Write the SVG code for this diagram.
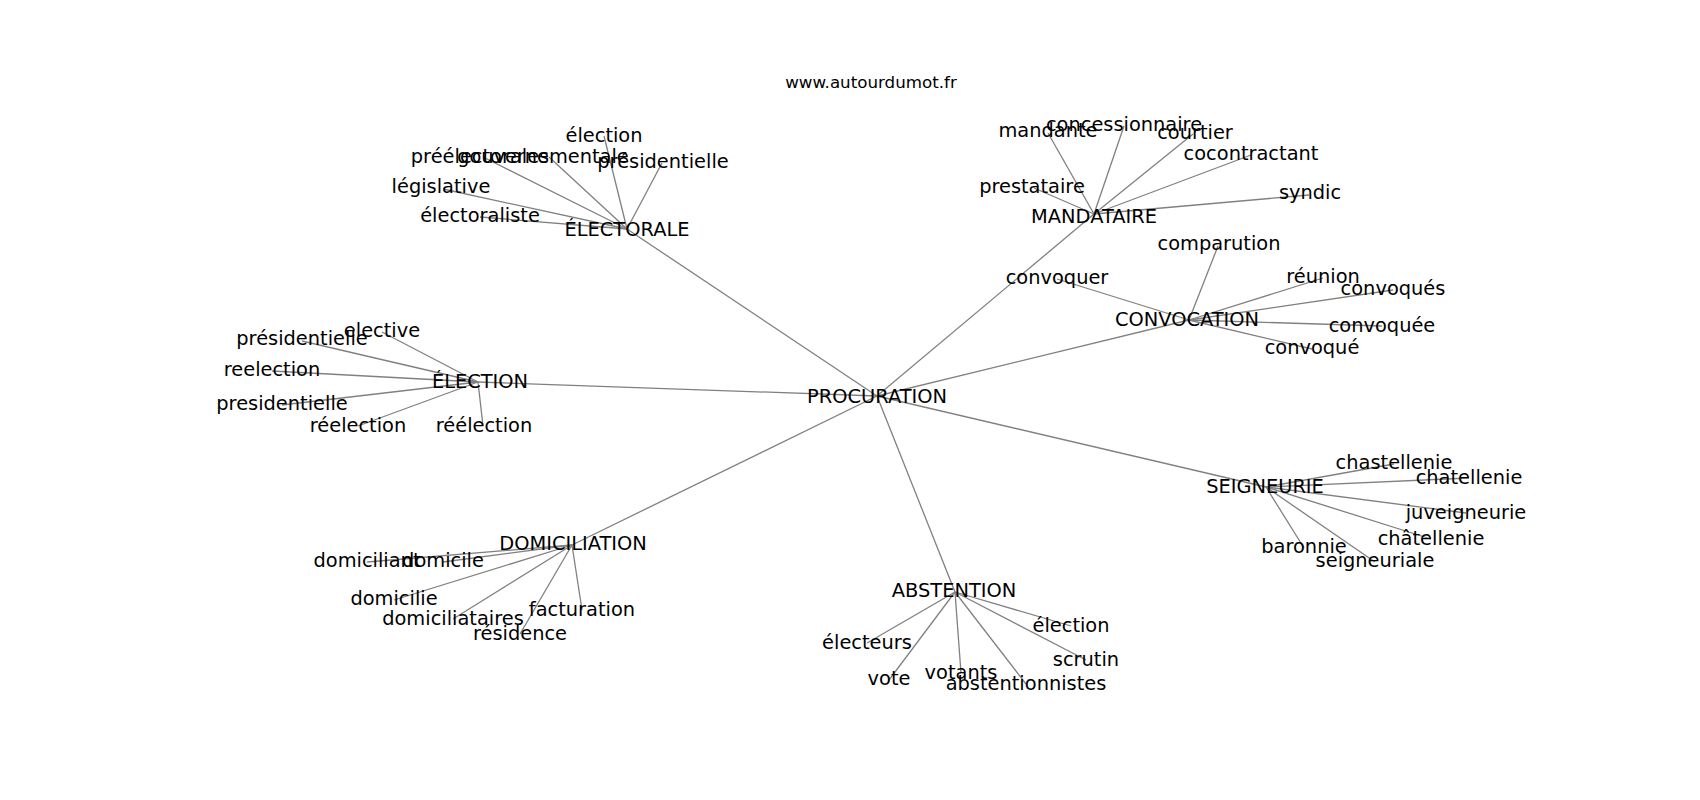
<svg xmlns="http://www.w3.org/2000/svg" width="1700" height="800" viewBox="0 0 1700 800">
<style>
  .e { stroke: #808080; stroke-width: 1.3; fill: none; }
  text { font-family: "DejaVu Sans", "Liberation Sans", sans-serif; fill: #000; }
  .n text { font-size: 19.4px; text-anchor: middle; }
  .t { font-size: 16.7px; text-anchor: middle; }
</style>
<rect width="1700" height="800" fill="#fff"/>
<text class="t" x="871" y="88">www.autourdumot.fr</text>
<g id="edges">
  <line class="e" x1="877" y1="396" x2="627" y2="229"/>
  <line class="e" x1="877" y1="396" x2="1094" y2="214"/>
  <line class="e" x1="877" y1="396" x2="1189" y2="320"/>
  <line class="e" x1="877" y1="396" x2="478" y2="382"/>
  <line class="e" x1="877" y1="396" x2="572" y2="545"/>
  <line class="e" x1="877" y1="396" x2="955" y2="592"/>
  <line class="e" x1="877" y1="396" x2="1266" y2="487"/>
  <line class="e" x1="627" y1="229" x2="604" y2="136"/>
  <line class="e" x1="627" y1="229" x2="483" y2="157"/>
  <line class="e" x1="627" y1="229" x2="549" y2="157"/>
  <line class="e" x1="627" y1="229" x2="662" y2="163"/>
  <line class="e" x1="627" y1="229" x2="443" y2="189"/>
  <line class="e" x1="627" y1="229" x2="480" y2="217"/>
  <line class="e" x1="1094" y1="214" x2="1048" y2="133"/>
  <line class="e" x1="1094" y1="214" x2="1124" y2="126"/>
  <line class="e" x1="1094" y1="214" x2="1193" y2="134"/>
  <line class="e" x1="1094" y1="214" x2="1251" y2="155"/>
  <line class="e" x1="1094" y1="214" x2="1034" y2="188"/>
  <line class="e" x1="1094" y1="214" x2="1309" y2="195"/>
  <line class="e" x1="1189" y1="320" x2="1057" y2="279"/>
  <line class="e" x1="1189" y1="320" x2="1218" y2="246"/>
  <line class="e" x1="1189" y1="320" x2="1323" y2="278"/>
  <line class="e" x1="1189" y1="320" x2="1393" y2="290"/>
  <line class="e" x1="1189" y1="320" x2="1382" y2="326"/>
  <line class="e" x1="1189" y1="320" x2="1312" y2="349"/>
  <line class="e" x1="478" y1="382" x2="382" y2="332"/>
  <line class="e" x1="478" y1="382" x2="302" y2="341"/>
  <line class="e" x1="478" y1="382" x2="272" y2="371"/>
  <line class="e" x1="478" y1="382" x2="282" y2="405"/>
  <line class="e" x1="478" y1="382" x2="358" y2="426"/>
  <line class="e" x1="478" y1="382" x2="483" y2="426"/>
  <line class="e" x1="572" y1="545" x2="367" y2="562"/>
  <line class="e" x1="572" y1="545" x2="443" y2="562"/>
  <line class="e" x1="572" y1="545" x2="394" y2="600"/>
  <line class="e" x1="572" y1="545" x2="453" y2="619"/>
  <line class="e" x1="572" y1="545" x2="520" y2="634"/>
  <line class="e" x1="572" y1="545" x2="582" y2="610"/>
  <line class="e" x1="955" y1="592" x2="867" y2="643"/>
  <line class="e" x1="955" y1="592" x2="889" y2="680"/>
  <line class="e" x1="955" y1="592" x2="961" y2="673"/>
  <line class="e" x1="955" y1="592" x2="1026" y2="684"/>
  <line class="e" x1="955" y1="592" x2="1086" y2="660"/>
  <line class="e" x1="955" y1="592" x2="1071" y2="626"/>
  <line class="e" x1="1266" y1="487" x2="1394" y2="464"/>
  <line class="e" x1="1266" y1="487" x2="1469" y2="478"/>
  <line class="e" x1="1266" y1="487" x2="1466" y2="513"/>
  <line class="e" x1="1266" y1="487" x2="1431" y2="539"/>
  <line class="e" x1="1266" y1="487" x2="1304" y2="548"/>
  <line class="e" x1="1266" y1="487" x2="1375" y2="562"/>
</g>
<g class="n">
  <g id="n-procuration"><text x="877" y="403">PROCURATION</text></g>
  <g id="n-electorale"><text x="627" y="236">ÉLECTORALE</text></g>
  <g id="n-electorale-election"><text x="604" y="142">élection</text></g>
  <g id="n-preelectorales"><text x="480" y="163">préélectorales</text></g>
  <g id="n-gouvernementale"><text x="543" y="163">gouvernementale</text></g>
  <g id="n-electorale-presidentielle"><text x="663" y="168">présidentielle</text></g>
  <g id="n-legislative"><text x="441" y="193">législative</text></g>
  <g id="n-electoraliste"><text x="480" y="222">électoraliste</text></g>
  <g id="n-mandataire"><text x="1094" y="223">MANDATAIRE</text></g>
  <g id="n-mandante"><text x="1048" y="137">mandante</text></g>
  <g id="n-concessionnaire"><text x="1124" y="131">concessionnaire</text></g>
  <g id="n-courtier"><text x="1195" y="139">courtier</text></g>
  <g id="n-cocontractant"><text x="1251" y="160">cocontractant</text></g>
  <g id="n-prestataire"><text x="1032" y="193">prestataire</text></g>
  <g id="n-syndic"><text x="1310" y="199">syndic</text></g>
  <g id="n-convocation"><text x="1187" y="326">CONVOCATION</text></g>
  <g id="n-convoquer"><text x="1057" y="284">convoquer</text></g>
  <g id="n-comparution"><text x="1219" y="250">comparution</text></g>
  <g id="n-reunion"><text x="1323" y="283">réunion</text></g>
  <g id="n-convoques"><text x="1393" y="295">convoqués</text></g>
  <g id="n-convoquee"><text x="1382" y="332">convoquée</text></g>
  <g id="n-convoque"><text x="1312" y="354">convoqué</text></g>
  <g id="n-election"><text x="480" y="388">ÉLECTION</text></g>
  <g id="n-elective"><text x="382" y="337">elective</text></g>
  <g id="n-election-presidentielle"><text x="302" y="345">présidentielle</text></g>
  <g id="n-reelection"><text x="272" y="376">reelection</text></g>
  <g id="n-presidentielle"><text x="282" y="410">presidentielle</text></g>
  <g id="n-reelection2"><text x="358" y="432">réelection</text></g>
  <g id="n-reelection3"><text x="484" y="432">réélection</text></g>
  <g id="n-domiciliation"><text x="573" y="550">DOMICILIATION</text></g>
  <g id="n-domiciliant"><text x="367" y="567">domiciliant</text></g>
  <g id="n-domicile"><text x="443" y="567">domicile</text></g>
  <g id="n-domicilie"><text x="394" y="605">domicilie</text></g>
  <g id="n-domiciliataires"><text x="453" y="625">domiciliataires</text></g>
  <g id="n-residence"><text x="520" y="640">résidence</text></g>
  <g id="n-facturation"><text x="582" y="616">facturation</text></g>
  <g id="n-abstention"><text x="954" y="597">ABSTENTION</text></g>
  <g id="n-electeurs"><text x="867" y="649">électeurs</text></g>
  <g id="n-vote"><text x="889" y="685">vote</text></g>
  <g id="n-votants"><text x="961" y="679">votants</text></g>
  <g id="n-abstentionnistes"><text x="1026" y="690">abstentionnistes</text></g>
  <g id="n-scrutin"><text x="1086" y="666">scrutin</text></g>
  <g id="n-abstention-election"><text x="1071" y="632">élection</text></g>
  <g id="n-seigneurie"><text x="1265" y="493">SEIGNEURIE</text></g>
  <g id="n-chastellenie"><text x="1394" y="469">chastellenie</text></g>
  <g id="n-chatellenie"><text x="1469" y="484">chatellenie</text></g>
  <g id="n-juveigneurie"><text x="1466" y="519">juveigneurie</text></g>
  <g id="n-chatellenie2"><text x="1431" y="545">châtellenie</text></g>
  <g id="n-baronnie"><text x="1304" y="553">baronnie</text></g>
  <g id="n-seigneuriale"><text x="1375" y="567">seigneuriale</text></g>
</g>
</svg>
